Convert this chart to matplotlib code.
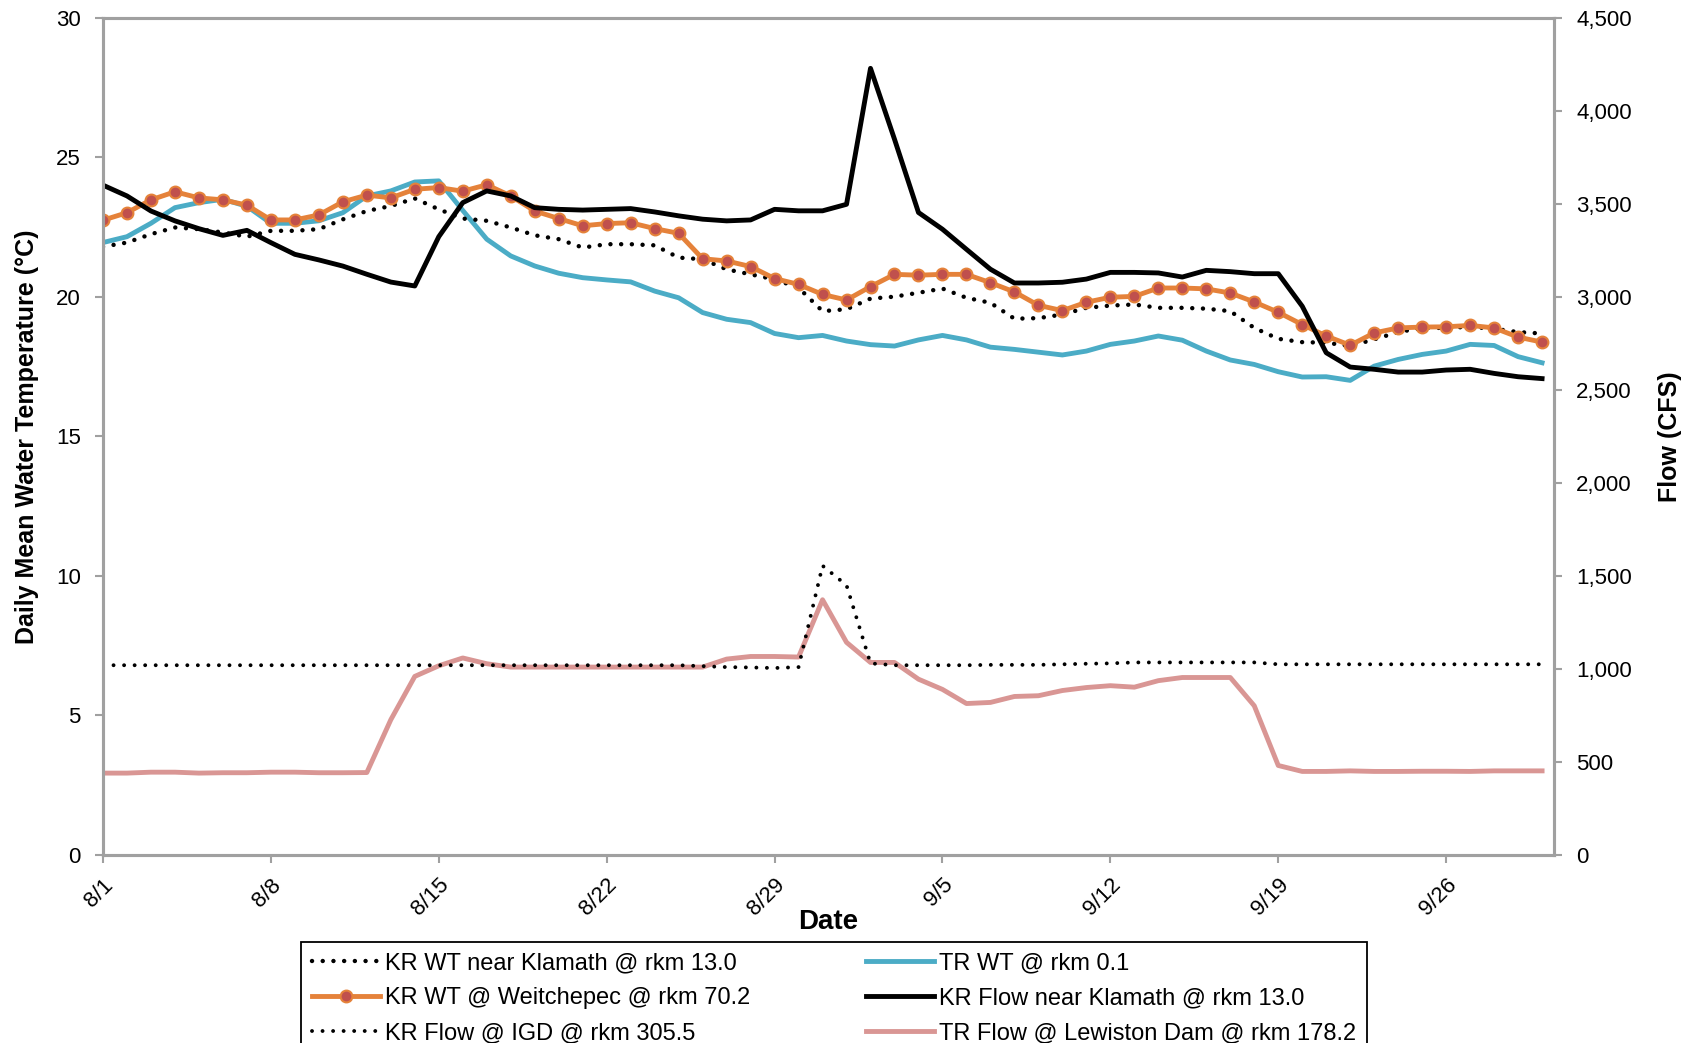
# -*- coding: utf-8 -*-
"""
Klamath / Trinity water temperature and flow, 8/1 - 9/30.
Left axis: daily mean water temperature, right axis: flow (CFS).
"""

import numpy as np
import matplotlib.pyplot as plt
from matplotlib.ticker import FuncFormatter, MultipleLocator

plt.rcParams['font.family'] = ['Liberation Sans', 'DejaVu Sans']

# ---- data: day index 0 = 8/1, 60 = 9/30 ----
days = np.arange(61)
tick_days = [0, 7, 14, 21, 28, 35, 42, 49, 56]
tick_labels = ['8/1', '8/8', '8/15', '8/22', '8/29', '9/5', '9/12', '9/19', '9/26']

kr_wt_klamath = [21.80, 21.95, 22.25, 22.49, 22.43, 22.31, 22.16, 22.37, 22.37, 22.43,
                 22.78, 23.08, 23.26, 23.53, 23.14, 22.81, 22.73, 22.49, 22.21, 22.07,
                 21.77, 21.89, 21.89, 21.85, 21.41, 21.35, 20.99, 20.81, 20.63, 20.33,
                 19.49, 19.56, 19.94, 20.01, 20.15, 20.30, 19.97, 19.79, 19.22, 19.24,
                 19.37, 19.61, 19.69, 19.73, 19.61, 19.61, 19.58, 19.49, 18.89, 18.50,
                 18.38, 18.36, 18.24, 18.48, 18.74, 18.89, 18.89, 18.93, 18.86, 18.74,
                 18.69]

tr_wt = [21.95, 22.16, 22.64, 23.20, 23.38, 23.50, 23.25, 22.64, 22.64, 22.73,
         23.02, 23.62, 23.80, 24.12, 24.16, 23.10, 22.07, 21.47, 21.11, 20.85,
         20.69, 20.61, 20.54, 20.21, 19.97, 19.44, 19.20, 19.08, 18.69, 18.54,
         18.62, 18.42, 18.29, 18.24, 18.46, 18.62, 18.46, 18.20, 18.12, 18.02,
         17.92, 18.06, 18.30, 18.42, 18.60, 18.45, 18.06, 17.74, 17.58, 17.32,
         17.13, 17.14, 17.01, 17.52, 17.76, 17.94, 18.06, 18.30, 18.26, 17.86,
         17.64]

kr_wt_weitchepec = [22.75, 23.02, 23.48, 23.77, 23.55, 23.48, 23.29, 22.76, 22.76, 22.94,
                    23.41, 23.65, 23.55, 23.86, 23.92, 23.79, 24.02, 23.62, 23.08, 22.81,
                    22.55, 22.63, 22.66, 22.45, 22.28, 21.37, 21.29, 21.09, 20.66, 20.45,
                    20.09, 19.89, 20.37, 20.81, 20.78, 20.81, 20.81, 20.51, 20.18, 19.70,
                    19.51, 19.81, 19.99, 20.02, 20.32, 20.32, 20.29, 20.14, 19.82, 19.45,
                    19.01, 18.60, 18.27, 18.71, 18.89, 18.92, 18.93, 18.98, 18.89, 18.56,
                    18.38]

kr_flow_klamath = [3601, 3543, 3462, 3409, 3367, 3331, 3358, 3292, 3229, 3199,
                   3166, 3122, 3080, 3059, 3324, 3507, 3570, 3543, 3480, 3471,
                   3467, 3471, 3475, 3457, 3436, 3418, 3409, 3414, 3471, 3463,
                   3463, 3498, 4229, 3848, 3454, 3364, 3256, 3149, 3075, 3075,
                   3079, 3096, 3132, 3132, 3129, 3107, 3143, 3136, 3125, 3125,
                   2950, 2700, 2623, 2611, 2596, 2596, 2607, 2611, 2589, 2571,
                   2561]

kr_flow_igd = [1020, 1020, 1020, 1020, 1020, 1020, 1020, 1020, 1020, 1020,
               1020, 1020, 1020, 1020, 1020, 1020, 1020, 1020, 1020, 1020,
               1020, 1020, 1020, 1020, 1020, 1015, 1010, 1008, 1005, 1010,
               1555, 1450, 1030, 1020, 1020, 1020, 1020, 1022, 1022, 1022,
               1025, 1028, 1030, 1035, 1035, 1035, 1035, 1035, 1035, 1025,
               1025, 1025, 1025, 1025, 1025, 1025, 1025, 1025, 1025, 1025,
               1025]

tr_flow_lewiston = [440, 440, 445, 445, 440, 442, 442, 445, 445, 442,
                    442, 443, 727, 960, 1017, 1059, 1028, 1010, 1010, 1010,
                    1010, 1010, 1010, 1010, 1010, 1010, 1053, 1067, 1067, 1064,
                    1372, 1143, 1035, 1035, 945, 890, 814, 820, 852, 856,
                    884, 900, 910, 902, 937, 954, 954, 954, 802, 481,
                    449, 449, 452, 449, 449, 450, 450, 449, 452, 452,
                    452]

# ---- figure ----
fig = plt.figure(figsize=(16.94, 10.43), dpi=100)
ax = fig.add_axes([0.0608, 0.1803, 0.8566, 0.8025])
ax2 = ax.twinx()

dot = dict(linestyle=(0, (0.01, 2.4)), dash_capstyle='round', color='black')

l_tr, = ax.plot(days, tr_wt, color='#4BACC6', lw=3.5, label='TR WT @ rkm 0.1')
l_kl, = ax.plot(days, kr_wt_klamath, lw=3.2, label='KR WT near Klamath @ rkm 13.0', **dot)
l_we, = ax.plot(days, kr_wt_weitchepec, color='#E5823A', lw=3.5, marker='o', ms=8.5,
                mfc='#C0504D', mec='#E5823A', mew=1.5,
                label='KR WT @ Weitchepec @ rkm 70.2')

l_lw, = ax2.plot(days, tr_flow_lewiston, color='#D99694', lw=3.5,
                 label='TR Flow @ Lewiston Dam @ rkm 178.2')
l_igd, = ax2.plot(days, kr_flow_igd, lw=2.8, label='KR Flow @ IGD @ rkm 305.5',
                  **dict(dot, linestyle=(0, (0.01, 2.7))))
l_fk, = ax2.plot(days, kr_flow_klamath, color='black', lw=3.5,
                 label='KR Flow near Klamath @ rkm 13.0')

# 轴范围与刻度
ax.set_xlim(0, 60.5)
ax.set_ylim(0, 30)
ax2.set_ylim(0, 4500)
ax.yaxis.set_major_locator(MultipleLocator(5))
ax2.yaxis.set_major_locator(MultipleLocator(500))
ax2.yaxis.set_major_formatter(FuncFormatter(lambda v, p: f'{v:,.0f}'))

ax.set_xticks(tick_days)
ax.set_xticklabels(tick_labels, rotation=45, ha='right', va='top',
                   rotation_mode='anchor')

grey = '#A0A0A0'
for a in (ax, ax2):
    for s in a.spines.values():
        s.set_color(grey)
        s.set_linewidth(2.2)
ax.tick_params(axis='both', direction='out', length=6, width=1.5, color=grey,
               labelsize=16, pad=10)
ax.tick_params(axis='x', pad=8)
ax2.tick_params(axis='y', direction='out', length=6, width=1.5, color=grey,
                labelsize=16, pad=10)

ax.set_ylabel('Daily Mean Water Temperature (°C)', fontsize=18, fontweight='bold',
              labelpad=12)
ax2.set_ylabel('Flow (CFS)', fontsize=18, fontweight='bold', labelpad=19)
ax.set_xlabel('Date', fontsize=20, fontweight='bold', labelpad=-8)

handles = [l_kl, l_we, l_igd, l_tr, l_fk, l_lw]
leg = fig.legend(handles=handles, loc='upper left', ncol=2,
                 bbox_to_anchor=(301 / 1694, 1 - 942 / 1043),
                 fontsize=17, frameon=True, fancybox=False, framealpha=1,
                 edgecolor='black', handlelength=2.9, handletextpad=0.2,
                 columnspacing=4.9, labelspacing=0.54, borderpad=0.45,
                 borderaxespad=0)
leg.get_frame().set_linewidth(1.3)

fig.savefig('out.png', dpi=100)
